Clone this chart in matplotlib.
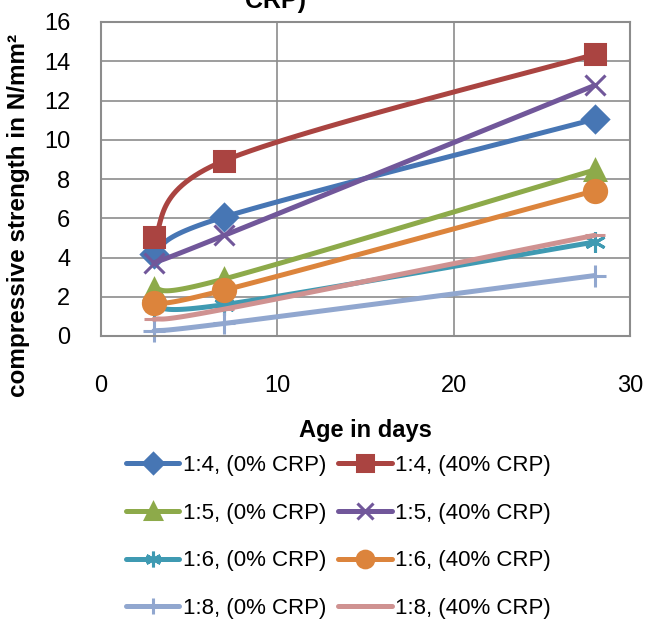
import matplotlib
matplotlib.use("Agg")
import matplotlib.pyplot as plt
import numpy as np

plt.rcParams['font.family'] = ['Liberation Sans', 'DejaVu Sans']

# 龄期（天）
days = [3, 7, 28]

labels = [
    "1:4, (0% CRP)", "1:4, (40% CRP)",
    "1:5, (0% CRP)", "1:5, (40% CRP)",
    "1:6, (0% CRP)", "1:6, (40% CRP)",
    "1:8, (0% CRP)", "1:8, (40% CRP)",
]
s14_0 = [4.2, 6.07, 11.05]
s14_40 = [5.04, 8.94, 14.35]
s15_0 = [2.39, 2.91, 8.46]
s15_40 = [3.73, 5.13, 12.77]
s16_0 = [1.55, 1.6, 4.79]
s16_40 = [1.66, 2.34, 7.4]
s18_0 = [0.26, 0.64, 3.08]
s18_40 = [0.85, 1.37, 5.13]
series = [s14_0, s14_40, s15_0, s15_40, s16_0, s16_40, s18_0, s18_40]

colors = ['#4776B4', '#AA4441', '#8DAA4A', '#71579A', '#3F9AB2', '#DC843C', '#91A7CF', '#CF9291']
markers = ['D', 's', '^', 'x', (6, 2, 0), 'o', '+', '_']
msizes = [13, 15, 15, 15, 15, 16, 16, 14]

def smooth(x, y, n=30):
    # excel风格的平滑曲线（Catmull-Rom转贝塞尔）
    p = np.column_stack([x, y]).astype(float)
    pts = np.vstack([p[0], p, p[-1]])
    out = []
    t = np.linspace(0, 1, n + 1)[:, None]
    for i in range(len(p) - 1):
        p0, p1, p2, p3 = pts[i], pts[i + 1], pts[i + 2], pts[i + 3]
        c1 = p1 + (p2 - p0) / 6
        c2 = p2 - (p3 - p1) / 6
        seg = (1 - t)**3 * p1 + 3 * (1 - t)**2 * t * c1 + 3 * (1 - t) * t**2 * c2 + t**3 * p2
        if i > 0:
            seg = seg[1:]
        out.append(seg)
    out = np.vstack(out)
    return out[:, 0], out[:, 1], [i * n for i in range(len(p))]

fig = plt.figure(figsize=(6.5, 6.19), dpi=100)
ax = fig.add_axes([101/650, 1-336/619, 529/650, 314/619])

lines = []
for k in range(len(series)):
    xs, ys, idx = smooth(days, series[k])
    ln, = ax.plot(xs, ys, color=colors[k], lw=3.6, marker=markers[k], markevery=idx,
                  ms=msizes[k], mec=colors[k], mfc=colors[k], mew=2.2,
                  solid_capstyle='round', label=labels[k], clip_on=False)
    lines.append(ln)

ax.set_xlim(0, 30)
ax.set_ylim(0, 16)
ax.set_xticks([0, 10, 20, 30])
ax.set_yticks(range(0, 17, 2))
ax.grid(True, color='#8C8C8C', lw=1.2)
ax.set_axisbelow(True)
for sp in ax.spines.values():
    sp.set_color('#8C8C8C')
    sp.set_linewidth(1.5)
ax.tick_params(length=0, labelsize=17, colors='black')
ax.tick_params(axis='x', pad=28)
ax.tick_params(axis='y', pad=22)

ax.set_xlabel("Age in days", fontsize=17, fontweight='bold')
ax.xaxis.set_label_coords(0.5, -0.265)
ax.set_ylabel("compressive strength in N/mm²", fontsize=17.5, fontweight='bold')
ax.yaxis.set_label_coords(-0.134, 0.385)

fig.text(275/650, 1-8/619, "CRP)", fontsize=18, fontweight='bold', ha='center', va='baseline')

# 图例按行排列（和excel一致）
order = [0, 2, 4, 6, 1, 3, 5, 7]
ax.legend([lines[i] for i in order], [labels[i] for i in order],
          loc='upper left', bbox_to_anchor=(126/650, 1-455/619), bbox_transform=fig.transFigure,
          ncol=2, frameon=False, fontsize=16, handlelength=2.4, handletextpad=0.15,
          columnspacing=0.55, labelspacing=1.2, borderpad=0, borderaxespad=0,
          markerscale=0.75)

fig.savefig("out.png", dpi=100)
